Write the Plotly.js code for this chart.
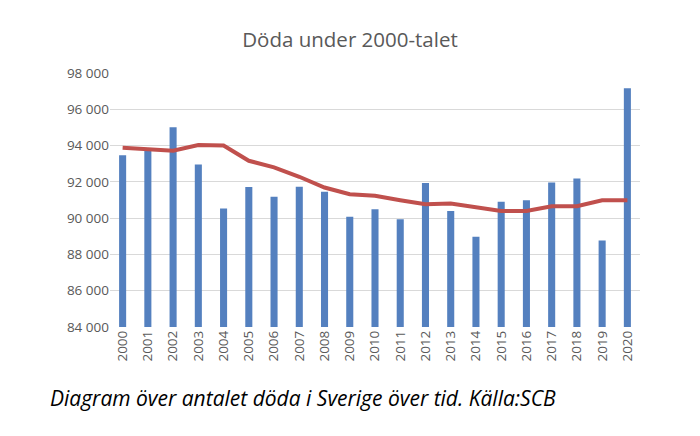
<!DOCTYPE html>
<html>
<head>
<meta charset="utf-8">
<script src="https://cdn.plot.ly/plotly-3.0.1.min.js"></script>
<style>html,body{margin:0;padding:0;background:#fff;}#chart{width:700px;height:436px;}</style>
</head>
<body>
<div id="chart"></div>
<script>
const years = ["2000","2001","2002","2003","2004","2005","2006","2007","2008","2009","2010","2011","2012","2013","2014","2015","2016","2017","2018","2019","2020"];
const deaths = [93460, 93750, 95010, 92960, 90530, 91710, 91180, 91730, 91450, 90080, 90490, 89940, 91940, 90400, 88980, 90910, 90980, 91970, 92190, 88770, 97160];
const trend = [93880, 93790, 93720, 94030, 94000, 93160, 92800, 92280, 91690, 91320, 91230, 90990, 90770, 90810, 90590, 90390, 90400, 90660, 90660, 90980, 90980];
const yTicks = [84000, 86000, 88000, 90000, 92000, 94000, 96000, 98000];
const titleText = "Döda under 2000-talet";
const captionText = "Diagram över antalet döda i Sverige över tid. Källa:SCB";

const data = [
  {type: "bar", x: years, y: deaths, marker: {color: "#5480bf"}, width: 0.28, hoverinfo: "x+y"},
  {type: "scatter", mode: "lines", x: years, y: trend, line: {color: "#c0504d", width: 4}, hoverinfo: "x+y"}
];
const layout = {
  width: 700, height: 436,
  margin: {l: 110, r: 60, t: 73, b: 109},
  paper_bgcolor: "#fff", plot_bgcolor: "#fff",
  separators: ", ",
  showlegend: false,
  font: {family: "Open Sans, sans-serif", color: "#595959"},
  title: {text: titleText, x: 0.5, xanchor: "center", xref: "container", y: 1 - 40/436, yref: "container", yanchor: "middle", font: {size: 20.5, color: "#595959", family: "Open Sans, sans-serif"}},
  xaxis: {type: "category", tickangle: -90, tickfont: {size: 13.5, color: "#595959"}, showgrid: false, showline: false, ticks: "", zeroline: false},
  yaxis: {range: [84000, 98000], tickvals: yTicks, tickformat: ",d", tickfont: {size: 13.5, color: "#595959"}, gridcolor: "#d9d9d9", gridwidth: 1, showline: false, zeroline: false, ticks: "", ticklen: 0, automargin: false},
  annotations: [{text: captionText, xref: "paper", yref: "paper", x: (48 - 110) / 530, y: -(398 - 327) / 254, xanchor: "left", yanchor: "middle", showarrow: false, font: {size: 21, color: "#000", family: "Open Sans, sans-serif", style: "italic"}}]
};
Plotly.newPlot("chart", data, layout, {displayModeBar: false, staticPlot: true});
</script>
</body>
</html>
